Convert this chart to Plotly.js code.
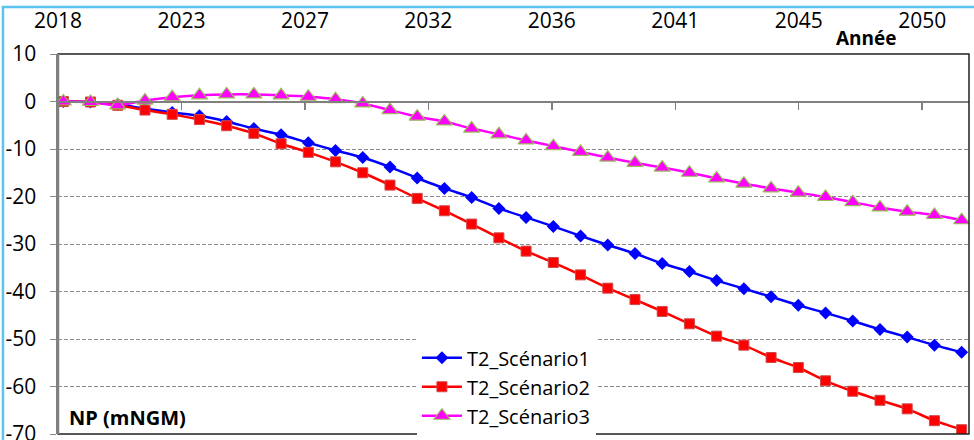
<!DOCTYPE html>
<html>
<head>
<meta charset="utf-8">
<script src="https://cdn.plot.ly/plotly-3.0.1.min.js"></script>
<style>html,body{margin:0;padding:0;background:#fff;}#chart{width:974px;height:440px;}</style>
</head>
<body>
<div id="chart"></div>
<script>
// ---- data ----
const years = [2018,2019,2020,2021,2022,2023,2024,2025,2026,2027,2028,2029,2030,2031,2032,2033,2034,2035,2036,2037,2038,2039,2040,2041,2042,2043,2044,2045,2046,2047,2048,2049,2050,2051];
const scenario1 = [0,-0.1,-0.6,-1.5,-2.3,-3.0,-4.2,-5.7,-7.0,-8.7,-10.3,-11.8,-13.8,-16.1,-18.3,-20.2,-22.5,-24.4,-26.3,-28.3,-30.2,-32.0,-34.1,-35.8,-37.7,-39.4,-41.1,-42.9,-44.5,-46.2,-48.0,-49.6,-51.3,-52.8];
const scenario2 = [0,-0.1,-0.8,-1.8,-2.7,-3.8,-5.1,-6.7,-8.9,-10.7,-12.7,-15.0,-17.6,-20.4,-23.0,-25.8,-28.7,-31.5,-33.9,-36.5,-39.3,-41.7,-44.2,-46.8,-49.4,-51.3,-53.9,-56.0,-58.8,-61.0,-62.9,-64.7,-67.2,-69.1];
const scenario3 = [0,-0.1,-0.8,0.2,0.9,1.3,1.5,1.5,1.3,1.0,0.5,-0.4,-1.8,-3.2,-4.2,-5.7,-6.9,-8.2,-9.4,-10.6,-11.8,-12.9,-13.9,-15.0,-16.2,-17.3,-18.3,-19.2,-20.1,-21.2,-22.3,-23.2,-23.9,-25.0];
const seriesNames = ['T2_Scénario1','T2_Scénario2','T2_Scénario3'];
const xTickLabels = ['2018','2023','2027','2032','2036','2041','2045','2050'];
const yTickValues = [-70,-60,-50,-40,-30,-20,-10,0,10];
const yTickLabels = ['-70','-60','-50','-40','-30','-20','-10','0','10'];

// ---- layout helpers ----
const xRange = [2017.805, 2051.27];
const xTickStep = 4.535;
const xTickVals = xTickLabels.map((_, i) => xRange[0] + i * xTickStep);
const FONT = 'Open Sans, DejaVu Sans, sans-serif';

const traces = [
  {x: years, y: scenario1, name: seriesNames[0], type: 'scatter', mode: 'lines+markers',
   line: {color: '#0000FF', width: 2.5, shape: 'spline', smoothing: 0.5},
   marker: {symbol: 'diamond', size: 10, color: '#0000FF'}},
  {x: years, y: scenario2, name: seriesNames[1], type: 'scatter', mode: 'lines+markers',
   line: {color: '#FF0000', width: 2.5, shape: 'spline', smoothing: 0.5},
   marker: {symbol: 'square', size: 10, color: '#FF0000', line: {color: '#D04848', width: 1}}},
  {x: years, y: scenario3, name: seriesNames[2], type: 'scatter', mode: 'lines+markers',
   line: {color: '#FF00FF', width: 2.5, shape: 'spline', smoothing: 0.7},
   marker: {symbol: 'triangle-up', size: 14, color: '#FF00FF', line: {color: '#9BBB59', width: 1.2}}},
  {x: years, y: years.map(() => null), xaxis: 'x2', yaxis: 'y', type: 'scatter', mode: 'lines',
   showlegend: false, hoverinfo: 'skip'}
];

const layout = {
  width: 974, height: 440,
  margin: {l: 58, r: 5, t: 54, b: 6, autoexpand: false},
  paper_bgcolor: '#ffffff', plot_bgcolor: '#ffffff',
  font: {family: FONT, size: 21, color: '#000'},
  showlegend: true,
  legend: {x: 0.394, y: 0.252, xanchor: 'left', yanchor: 'top', bgcolor: '#ffffff',
           font: {family: FONT, size: 20, color: '#000'}, tracegroupgap: 0, itemwidth: 40},
  xaxis: {range: xRange, anchor: 'free', position: 0.875, side: 'bottom', automargin: false,
          tickmode: 'array', tickvals: xTickVals, ticktext: xTickLabels, showticklabels: false,
          ticks: 'outside', ticklen: 7, tickwidth: 1.5, tickcolor: '#808080',
          showline: true, linecolor: '#808080', linewidth: 2, showgrid: false, zeroline: false},
  xaxis2: {range: xRange, overlaying: 'x', anchor: 'y', side: 'top', automargin: false,
           tickmode: 'array', tickvals: xTickVals, ticktext: xTickLabels,
           ticks: '', showline: false, showgrid: false, zeroline: false, ticklabeloverflow: 'allow',
           ticklabelstandoff: 21, tickfont: {family: FONT, size: 21, color: '#000'}},
  yaxis: {range: [-70, 10], tickmode: 'array', tickvals: yTickValues, ticktext: yTickLabels,
          automargin: false, ticklabeloverflow: 'allow',
          ticks: 'outside', ticklen: 6, tickcolor: '#8c8c8c', tickwidth: 1,
          showgrid: true, gridcolor: '#8c8c8c', gridwidth: 1, griddash: '4px,2px',
          showline: true, linecolor: '#808080', linewidth: 2.5, zeroline: false,
          ticklabelstandoff: 9, tickfont: {family: FONT, size: 21, color: '#000'}},
  shapes: [
    {type: 'rect', xref: 'x domain', yref: 'y domain', x0: 0, x1: 1, y0: 0, y1: 1,
     line: {color: '#202020', width: 1.5}, layer: 'above'},
    {type: 'line', xref: 'x domain', yref: 'y domain', x0: 0, x1: 0, y0: 0, y1: 1,
     line: {color: '#808080', width: 2.5}, layer: 'above'},
    {type: 'rect', xref: 'paper', yref: 'paper', x0: -0.0604, x1: 1.2, y0: -0.5, y1: 1.1237,
     line: {color: '#5AC3EE', width: 2.5}, layer: 'below'}
  ],
  annotations: [
    {text: '<b>Année</b>', xref: 'paper', yref: 'paper', x: 0.887, y: 1.042,
     xanchor: 'center', yanchor: 'middle', showarrow: false,
     font: {family: FONT, size: 19, color: '#000'}},
    {text: '<b>NP (mNGM)</b>', xref: 'paper', yref: 'paper', x: 0.0099, y: 0.0447,
     xanchor: 'left', yanchor: 'middle', showarrow: false,
     font: {family: FONT, size: 20, color: '#000'}}
  ]
};

Plotly.newPlot('chart', traces, layout, {displayModeBar: false, staticPlot: true});
</script>
</body>
</html>
